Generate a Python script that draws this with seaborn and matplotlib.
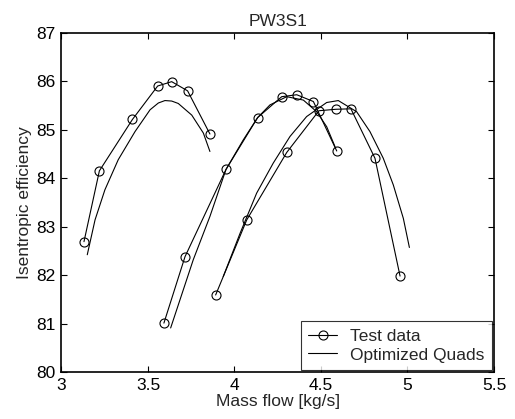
import matplotlib
matplotlib.use("Agg")
import matplotlib.pyplot as plt
from matplotlib.lines import Line2D
import pandas as pd
import seaborn as sns

# --------------------------------------------------------------
# Data
# --------------------------------------------------------------
# test data, three speed lines
test1_flow = [3.130, 3.219, 3.410, 3.556, 3.637, 3.729, 3.858]
test1_eff = [82.69, 84.15, 85.21, 85.90, 85.99, 85.80, 84.91]

test2_flow = [3.592, 3.714, 3.951, 4.134, 4.273, 4.360, 4.456, 4.591]
test2_eff = [81.01, 82.38, 84.18, 85.25, 85.68, 85.72, 85.58, 84.56]

test3_flow = [3.891, 4.071, 4.302, 4.488, 4.585, 4.673, 4.812, 4.957]
test3_eff = [81.59, 83.14, 84.53, 85.39, 85.42, 85.43, 84.41, 81.98]

# optimized quads, points
opt1_flow = [3.149, 3.194, 3.251, 3.328, 3.425, 3.512, 3.560, 3.598, 3.637, 3.675,
             3.753, 3.820, 3.858]
opt1_eff = [82.42, 83.14, 83.76, 84.38, 84.96, 85.41, 85.55, 85.60, 85.59, 85.54,
            85.30, 84.93, 84.55]

opt2_flow = [3.631, 3.762, 3.858, 3.951, 4.051, 4.134, 4.205, 4.302, 4.398, 4.475, 4.533, 4.581]
opt2_eff = [80.91, 82.32, 83.21, 84.18, 84.79, 85.25, 85.51, 85.68, 85.61, 85.37, 85.06, 84.65]

opt3_flow = [3.935, 4.032, 4.128, 4.224, 4.321, 4.417, 4.533, 4.600, 4.706, 4.783,
             4.860, 4.918, 4.976, 5.011]
opt3_eff = [81.97, 82.86, 83.69, 84.31, 84.86, 85.27, 85.56, 85.60, 85.37, 84.96,
            84.41, 83.86, 83.17, 82.57]

x_ticks = [3, 3.5, 4, 4.5, 5, 5.5]
x_labels = ["3", "3.5", "4", "4.5", "5", "5.5"]
y_ticks = [80, 81, 82, 83, 84, 85, 86, 87]

# --------------------------------------------------------------
# Plotting
# --------------------------------------------------------------
sns.set_style("ticks")
plt.rcParams["font.family"] = ["Liberation Sans", "DejaVu Sans"]
fs = 12.5

fig = plt.figure(figsize=(5.15, 4.19), dpi=100)
ax = fig.add_axes([0.1194, 0.112, 0.8398, 0.810])

for flow, eff in [(test1_flow, test1_eff), (test2_flow, test2_eff), (test3_flow, test3_eff)]:
    df = pd.DataFrame({"flow": flow, "eff": eff})
    sns.lineplot(data=df, x="flow", y="eff", sort=False, ax=ax, color="black",
                 linewidth=0.8, marker="o", markersize=6.5, markerfacecolor="none",
                 markeredgecolor="black", markeredgewidth=0.8)

for flow, eff in [(opt1_flow, opt1_eff), (opt2_flow, opt2_eff), (opt3_flow, opt3_eff)]:
    df = pd.DataFrame({"flow": flow, "eff": eff})
    sns.lineplot(data=df, x="flow", y="eff", sort=False, ax=ax, color="black",
                 linewidth=0.8)

ax.set_xlim(3, 5.5)
ax.set_ylim(80, 87)
ax.set_xticks(x_ticks)
ax.set_xticklabels(x_labels)
ax.set_yticks(y_ticks)
ax.tick_params(direction="in", length=4, width=0.8, top=True, right=True,
               labelsize=fs, colors="black", pad=4)
for side in ax.spines.values():
    side.set_linewidth(1.2)
    side.set_color("black")

ax.set_title("PW3S1", fontsize=fs, pad=5)
ax.set_xlabel("Mass flow [kg/s]", fontsize=fs, labelpad=1)
ax.set_ylabel("Isentropic efficiency", fontsize=fs, labelpad=3)

handles = [
    Line2D([], [], color="black", linewidth=0.8, marker="o", markersize=6.5,
           markerfacecolor="none", markeredgewidth=0.8),
    Line2D([], [], color="black", linewidth=0.8),
]
leg = ax.legend(handles, ["Test data", "Optimized Quads"], loc="lower right",
                fontsize=fs, frameon=True, fancybox=False, borderaxespad=0.1,
                handlelength=1.65, handletextpad=0.75, borderpad=0.45,
                labelspacing=0.2)
leg.get_frame().set_edgecolor("black")
leg.get_frame().set_linewidth(0.8)

fig.savefig("out.png", dpi=100)
